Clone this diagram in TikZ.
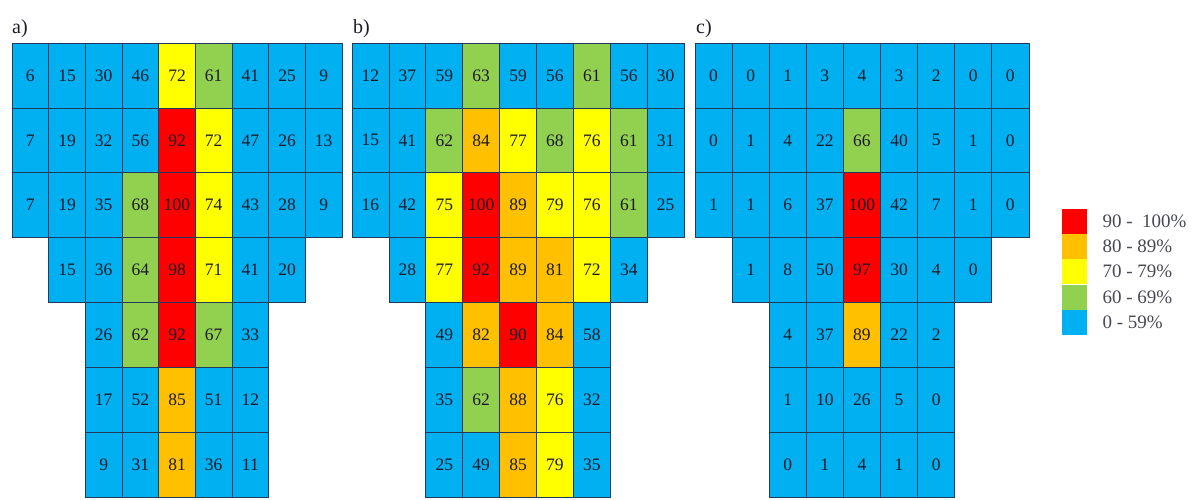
\documentclass[tikz,border=0pt]{standalone}
\usepackage{fontspec}
\setmainfont{Liberation Serif}
\definecolor{cr}{HTML}{FF0000}
\definecolor{co}{HTML}{FFC000}
\definecolor{cy}{HTML}{FFFF00}
\definecolor{cg}{HTML}{92D050}
\definecolor{cb}{HTML}{00B0F0}
\definecolor{edge}{HTML}{1F3A5A}
\definecolor{txt}{HTML}{1A1A2A}
\tikzset{
  cell/.style={draw=edge, line width=0.7pt, inner sep=0pt, anchor=center,
    text=txt, font=\fontsize{17.5}{17.5}\selectfont},
  panellab/.style={anchor=base west, inner sep=0pt, text=txt, font=\fontsize{20}{20}\selectfont},
  swatch/.style={draw=none, inner sep=0pt, minimum width=25pt, minimum height=24.9pt, anchor=north west},
  legtext/.style={anchor=west, inner sep=0pt, text=txt!80, font=\fontsize{19}{19}\selectfont},
}
\newcommand\rh{64.86}
% #1 prefix, #2 x0, #3 cell width, #4 row, #5 first column, #6 values
\newcommand\cellrow[6]{%
  \foreach \v [count=\i from #5] in {#6} {%
    \ifnum\v>89 \def\cc{cr}\else
    \ifnum\v>79 \def\cc{co}\else
    \ifnum\v>69 \def\cc{cy}\else
    \ifnum\v>59 \def\cc{cg}\else
    \def\cc{cb}\fi\fi\fi\fi
    \node[cell, fill=\cc, minimum width=#3pt, minimum height=\rh pt]
      (#1-#4-\i) at ({#2+(\i-0.5)*#3}, {43+(#4-0.5)*\rh}) {\v};
  }%
}
\begin{document}
\begin{tikzpicture}[x=1pt, y=-1pt]
\useasboundingbox (0,0) rectangle (1194,499);
% panel a
\node[panellab] (la) at (12,33) {a)};
\cellrow{a}{12}{36.67}{1}{1}{6,15,30,46,72,61,41,25,9}
\cellrow{a}{12}{36.67}{2}{1}{7,19,32,56,92,72,47,26,13}
\cellrow{a}{12}{36.67}{3}{1}{7,19,35,68,100,74,43,28,9}
\cellrow{a}{12}{36.67}{4}{2}{15,36,64,98,71,41,20}
\cellrow{a}{12}{36.67}{5}{3}{26,62,92,67,33}
\cellrow{a}{12}{36.67}{6}{3}{17,52,85,51,12}
\cellrow{a}{12}{36.67}{7}{3}{9,31,81,36,11}
% panel b
\node[panellab] (lb) at (353,33) {b)};
\cellrow{b}{352}{36.9}{1}{1}{12,37,59,63,59,56,61,56,30}
\cellrow{b}{352}{36.9}{2}{1}{15,41,62,84,77,68,76,61,31}
\cellrow{b}{352}{36.9}{3}{1}{16,42,75,100,89,79,76,61,25}
\cellrow{b}{352}{36.9}{4}{2}{28,77,92,89,81,72,34}
\cellrow{b}{352}{36.9}{5}{3}{49,82,90,84,58}
\cellrow{b}{352}{36.9}{6}{3}{35,62,88,76,32}
\cellrow{b}{352}{36.9}{7}{3}{25,49,85,79,35}
% panel c
\node[panellab] (lc) at (696,33) {c)};
\cellrow{c}{695}{37.1}{1}{1}{0,0,1,3,4,3,2,0,0}
\cellrow{c}{695}{37.1}{2}{1}{0,1,4,22,66,40,5,1,0}
\cellrow{c}{695}{37.1}{3}{1}{1,1,6,37,100,42,7,1,0}
\cellrow{c}{695}{37.1}{4}{2}{1,8,50,97,30,4,0}
\cellrow{c}{695}{37.1}{5}{3}{4,37,89,22,2}
\cellrow{c}{695}{37.1}{6}{3}{1,10,26,5,0}
\cellrow{c}{695}{37.1}{7}{3}{0,1,4,1,0}
% legend
\node[swatch, fill=cr] (s1) at (1062,208.5) {};
\node[swatch, fill=co] (s2) at (s1.south west) {};
\node[swatch, fill=cy] (s3) at (s2.south west) {};
\node[swatch, fill=cg] (s4) at (s3.south west) {};
\node[swatch, fill=cb] (s5) at (s4.south west) {};
\node[legtext] (t1) at ([xshift=15pt]s1.east) {90 -\ \ 100\%};
\node[legtext] (t2) at ([xshift=15pt]s2.east) {80 - 89\%};
\node[legtext] (t3) at ([xshift=15pt]s3.east) {70 - 79\%};
\node[legtext] (t4) at ([xshift=15pt]s4.east) {60 - 69\%};
\node[legtext] (t5) at ([xshift=15pt]s5.east) {0 - 59\%};
\end{tikzpicture}
\end{document}
